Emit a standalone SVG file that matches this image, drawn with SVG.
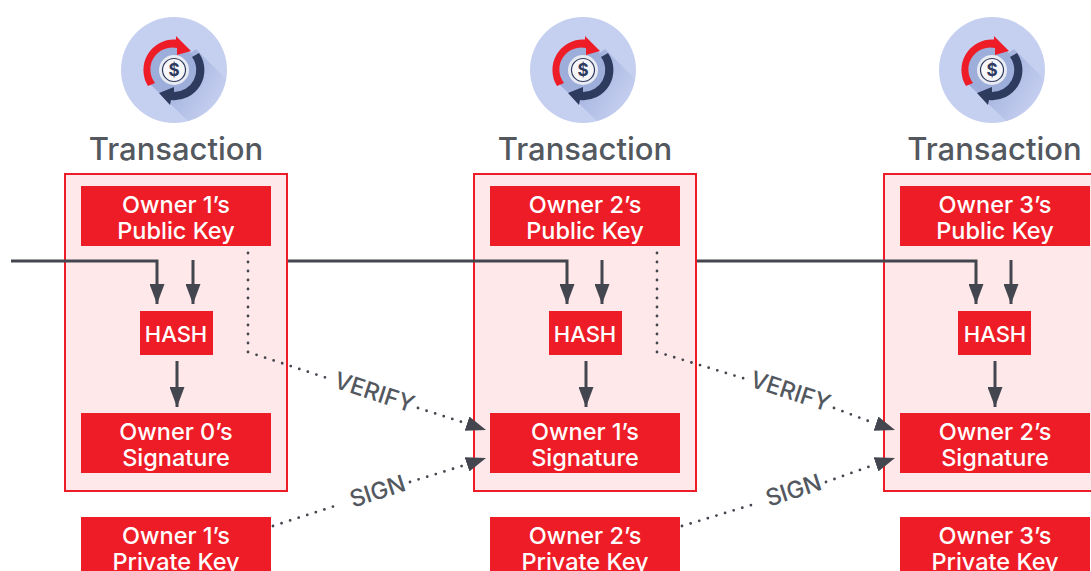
<svg xmlns="http://www.w3.org/2000/svg" xmlns:xlink="http://www.w3.org/1999/xlink" width="1091" height="571" viewBox="0 0 1091 571">
<style>
text{font-family:Inter,"Open Sans",sans-serif;text-anchor:middle}
.frame{fill:#fee8e9;stroke:#ee1c27;stroke-width:2}
.box{fill:#ee1c27}
.w{fill:#fff;font-size:23.500px;font-weight:500}
.h{fill:#fff;font-size:22px;font-weight:500}
.t{fill:#53585f;font-size:31px;font-weight:500}
.l{fill:#53585f;font-size:23.500px;font-weight:500}
.c{fill:#2f3a5f;font-size:17px;font-weight:700}
.solid{fill:none;stroke:#43464f;stroke-width:3}
.dot{fill:none;stroke:#43464f;stroke-width:2.800;stroke-linecap:round;stroke-dasharray:0 9}
.ghost{fill:none;stroke:none}
</style>
<defs>
<marker id="a" markerUnits="userSpaceOnUse" markerWidth="21" markerHeight="15" refX="20" refY="7.500" orient="auto"><path d="M0 0L20 7.500L0 15Z" fill="#43464f"/></marker>
<linearGradient id="sh" x1="0" y1="0" x2="1" y2="0.600"><stop offset="0" stop-color="#8fa0d2"/><stop offset="1" stop-color="#c5cff0"/></linearGradient>
<g id="icon">
<circle cx="174" cy="70" r="53" fill="#c5cff0"/>
<path d="M196 49L226 79A53 53 0 0 1 188 121L150 84Z" fill="url(#sh)"/>
<circle cx="174" cy="70" r="24" fill="#9eaedb"/>
<path d="M148 86A30.500 30.500 0 0 1 176 39.500L176 36L191 51L177 55L177 48A22 22 0 0 0 155 83Z" fill="#ee1c27"/>
<path d="M199 53A30 30 0 0 1 171 100L170 105L159 93L174 87L174 92A22 22 0 0 0 192 57Z" fill="#2f3a5f"/>
<circle cx="174" cy="70" r="15" fill="#e9ebf2"/>
<circle cx="174" cy="70" r="11.500" fill="#f7f7fa" stroke="#2f3a5f" stroke-width="1.200"/>
</g>
</defs>
<g id="tx1">
<use xlink:href="#icon"/>
<text x="176" y="160" class="t">Transaction</text>
<rect class="frame" x="65" y="174" width="222" height="317"/>
<rect class="box" x="81" y="186" width="190" height="60"/>
<text class="w" x="176" y="212.500">Owner 1’s</text><text class="w" x="176" y="238.500">Public Key</text>
<rect class="box" x="140" y="311" width="73" height="44"/>
<text class="h" x="176" y="341.500">HASH</text>
<rect class="box" x="81" y="413" width="190" height="60"/>
<text class="w" x="176" y="439.500">Owner 0’s</text><text class="w" x="176" y="465.500">Signature</text>
</g>
<g id="tx2">
<use xlink:href="#icon" x="409"/>
<text x="585" y="160" class="t">Transaction</text>
<rect class="frame" x="474" y="174" width="222" height="317"/>
<rect class="box" x="490" y="186" width="190" height="60"/>
<text class="w" x="585" y="212.500">Owner 2’s</text><text class="w" x="585" y="238.500">Public Key</text>
<rect class="box" x="549" y="311" width="73" height="44"/>
<text class="h" x="585" y="341.500">HASH</text>
<rect class="box" x="490" y="413" width="190" height="60"/>
<text class="w" x="585" y="439.500">Owner 1’s</text><text class="w" x="585" y="465.500">Signature</text>
</g>
<g id="tx3">
<use xlink:href="#icon" x="818"/>
<text x="994.500" y="160" class="t">Transaction</text>
<rect class="frame" x="884" y="174" width="222" height="317"/>
<rect class="box" x="900" y="186" width="190" height="60"/>
<text class="w" x="995" y="212.500">Owner 3’s</text><text class="w" x="995" y="238.500">Public Key</text>
<rect class="box" x="958" y="311" width="73" height="44"/>
<text class="h" x="995" y="341.500">HASH</text>
<rect class="box" x="900" y="413" width="190" height="60"/>
<text class="w" x="995" y="439.500">Owner 2’s</text><text class="w" x="995" y="465.500">Signature</text>
</g>
<g id="key1"><rect class="box" x="81" y="517" width="190" height="60"/><text class="w" x="176" y="543.500">Owner 1’s</text><text class="w" x="176" y="569.500">Private Key</text></g>
<g id="key2"><rect class="box" x="490" y="517" width="190" height="60"/><text class="w" x="585" y="543.500">Owner 2’s</text><text class="w" x="585" y="569.500">Private Key</text></g>
<g id="key3"><rect class="box" x="900" y="517" width="190" height="60"/><text class="w" x="995" y="543.500">Owner 3’s</text><text class="w" x="995" y="569.500">Private Key</text></g>
<g id="connectors">
<path class="solid" d="M11 261H157V304" marker-end="url(#a)"/>
<path class="solid" d="M288 261H567V304" marker-end="url(#a)"/>
<path class="solid" d="M697 261H976V304" marker-end="url(#a)"/>
<path class="solid" d="M193 260V304" marker-end="url(#a)"/>
<path class="solid" d="M602 260V304" marker-end="url(#a)"/>
<path class="solid" d="M1011 260V304" marker-end="url(#a)"/>
<path class="solid" d="M177 361V407" marker-end="url(#a)"/>
<path class="solid" d="M586 361V407" marker-end="url(#a)"/>
<path class="solid" d="M995 361V407" marker-end="url(#a)"/>
<path class="dot" d="M248 253V352L333 380M418 408L462 422"/>
<path class="ghost" d="M468 424L486 430" marker-end="url(#a)"/>
<path class="dot" d="M273 526L341 504M410 482L462 466"/>
<path class="ghost" d="M468 464L486 458" marker-end="url(#a)"/>
<path class="dot" d="M657 253V352L749 380M834 408L871 422"/>
<path class="ghost" d="M877 424L895 430" marker-end="url(#a)"/>
<path class="dot" d="M682 526L758 503M826 482L871 466"/>
<path class="ghost" d="M877 464L895 458" marker-end="url(#a)"/>
</g>
<text class="l" transform="translate(372 400) rotate(18)">VERIFY</text>
<text class="l" transform="translate(380 499) rotate(-18)">SIGN</text>
<text class="l" transform="translate(788 399) rotate(18)">VERIFY</text>
<text class="l" transform="translate(796 498) rotate(-18)">SIGN</text>
<g id="coins"><text class="c" x="174" y="76">$</text><text class="c" x="583" y="76">$</text><text class="c" x="992" y="76">$</text></g>
</svg>
